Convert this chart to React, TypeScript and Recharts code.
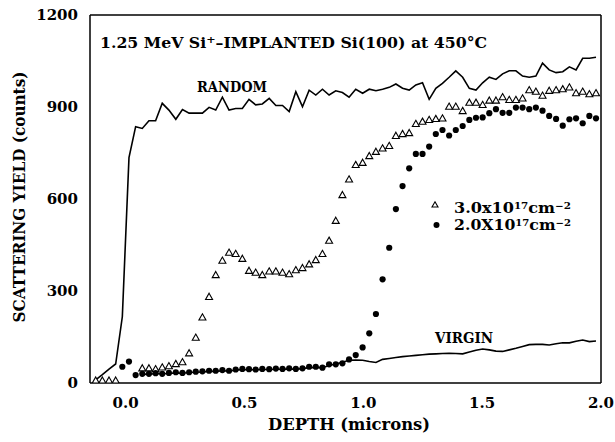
import { ComposedChart, Line, Scatter, XAxis, YAxis } from "recharts";

// depth grid (microns)
const DEPTH = [
  -0.126, -0.098, -0.07, -0.042, -0.014, 0.014, 0.042, 0.07, 0.098, 0.126,
  0.154, 0.182, 0.211, 0.239, 0.267, 0.295, 0.323, 0.351, 0.379, 0.407,
  0.435, 0.463, 0.491, 0.519, 0.547, 0.575, 0.604, 0.632, 0.66, 0.688,
  0.716, 0.744, 0.772, 0.8, 0.828, 0.856, 0.884, 0.912, 0.94, 0.968,
  0.997, 1.025, 1.053, 1.081, 1.109, 1.137, 1.165, 1.193, 1.221, 1.249,
  1.277, 1.305, 1.333, 1.361, 1.389, 1.418, 1.446, 1.474, 1.502, 1.53,
  1.558, 1.586, 1.614, 1.642, 1.67, 1.698, 1.726, 1.754, 1.782, 1.811,
  1.839, 1.867, 1.895, 1.923, 1.951, 1.979,
];

const RANDOM = [
  10, 27, 45, 62, 216, 735, 836, 830, 855, 855,
  912, 890, 860, 892, 880, 880, 880, 899, 890, 932,
  890, 895, 895, 925, 907, 910, 928, 905, 905, 885,
  950, 901, 955, 939, 958, 939, 953, 947, 932, 958,
  945, 958, 953, 958, 964, 975, 961, 955, 972, 979,
  925, 961, 977, 997, 1018, 997, 961, 955, 979, 997,
  990, 1008, 1018, 1018, 1001, 997, 1001, 1043, 1021, 1012,
  1015, 1031, 1021, 1059, 1059, 1062,
];

const VIRGIN = [
  null, null, null, null, null, null, null, 28, 29, 30,
  30, 31, 33, 32, 34, 35, 36, 38, 38, 40,
  39, 42, 44, 43, 43, 44, 44, 45, 45, 46,
  45, 47, 50, 51, 50, 57, 62, 68, 74, 75,
  74, 70, 67, 77, 80, 83, 86, 88, 90, 92,
  94, 95, 96, 97, 96, 95, 101, 107, 111, 108,
  104, 103, 108, 113, 119, 125, 126, 126, 124, 128,
  131, 131, 136, 140, 135, 137,
];

// 3.0x10^17 cm^-2 (open triangles)
const DOSE_HIGH = [
  8, 8, 8, 8, null, null, null, 48, 48, 45,
  51, 55, 62, 68, 97, 148, 214, 281, 352, 399,
  425, 421, 405, 366, 360, 352, 364, 364, 360, 355,
  368, 375, 387, 401, 421, 464, 529, 613, 664, 711,
  718, 740, 754, 765, 773, 806, 812, 815, 845, 852,
  858, 861, 863, 901, 901, 887, 914, 914, 907, 921,
  921, 932, 923, 923, 928, 955, 950, 937, 953, 955,
  958, 964, 945, 950, 942, 945,
];

// 2.0X10^17 cm^-2 (filled circles)
const DOSE_LOW = [
  null, null, null, null, 53, 70, 26, 30, 30, 32,
  30, 33, 35, 33, 35, 37, 38, 40, 40, 42,
  40, 44, 46, 45, 44, 46, 45, 47, 46, 48,
  46, 48, 53, 53, 50, 61, 61, 64, 77, 91,
  116, 162, 225, 338, 441, 567, 642, 700, 747, 747,
  771, 812, 825, 807, 825, 838, 858, 865, 866, 880,
  893, 881, 881, 898, 898, 893, 898, 888, 871, 861,
  839, 860, 863, 847, 871, 863,
];

const X_MAJOR = [0, 0.5, 1, 1.5, 2];
const X_MINOR = [-0.1, 0.1, 0.2, 0.3, 0.4, 0.6, 0.7, 0.8, 0.9, 1.1, 1.2, 1.3, 1.4, 1.6, 1.7, 1.8, 1.9];
const Y_MAJOR = [0, 300, 600, 900, 1200];
const Y_MINOR = [100, 200, 400, 500, 700, 800, 1000, 1100];

const rows = DEPTH.map((d, i) => ({
  depth: d,
  random: RANDOM[i],
  virgin: VIRGIN[i],
  high: DOSE_HIGH[i],
  low: DOSE_LOW[i],
}));
const highRows = rows.filter((r) => r.high != null);
const lowRows = rows.filter((r) => r.low != null);

const FONT = "'DejaVu Serif', serif";
const tickFont = { fontFamily: FONT, fontSize: 15, fontWeight: 700, fill: "#000" };

const Triangle = (p: any) => (
  <path
    d={`M${p.cx},${p.cy - 3.6} L${p.cx + 3.5},${p.cy + 2.6} L${p.cx - 3.5},${p.cy + 2.6} Z`}
    fill="#fff"
    stroke="#000"
    strokeWidth={1.1}
  />
);

const Dot = (p: any) => <circle cx={p.cx} cy={p.cy} r={3.1} fill="#000" />;

export default function App() {
  return (
    <div style={{ position: "absolute", left: 0, top: 0, width: 615, height: 442, background: "#fff" }}>
      <ComposedChart
        width={615}
        height={442}
        data={rows}
        margin={{ top: 15, right: 14, bottom: 29, left: 40 }}
      >
        {/* labelled axes */}
        <XAxis
          xAxisId="x"
          dataKey="depth"
          type="number"
          domain={[-0.15, 2]}
          allowDataOverflow
          ticks={X_MAJOR}
          tickFormatter={(v) => v.toFixed(1)}
          tick={tickFont}
          tickLine={false}
          tickSize={0}
          tickMargin={14}
          height={30}
          axisLine={{ stroke: "#000", strokeWidth: 1.5 }}
        />
        <YAxis
          yAxisId="y"
          type="number"
          domain={[0, 1200]}
          allowDataOverflow
          ticks={Y_MAJOR}
          tick={tickFont}
          tickLine={false}
          tickSize={0}
          tickMargin={12}
          width={50}
          axisLine={{ stroke: "#000", strokeWidth: 1.5 }}
        />
        {/* inward tick marks and frame */}
        <XAxis xAxisId="bMaj" type="number" domain={[-0.15, 2]} allowDataOverflow orientation="bottom" mirror
          ticks={X_MAJOR} tick={false} tickSize={7} axisLine={false} tickLine={{ stroke: "#000", strokeWidth: 1.3 }} />
        <XAxis xAxisId="bMin" type="number" domain={[-0.15, 2]} allowDataOverflow orientation="bottom" mirror
          ticks={X_MINOR} tick={false} tickSize={4} axisLine={false} tickLine={{ stroke: "#000", strokeWidth: 1.2 }} />
        <XAxis xAxisId="tMaj" type="number" domain={[-0.15, 2]} allowDataOverflow orientation="top" mirror
          ticks={X_MAJOR} tick={false} tickSize={6} axisLine={{ stroke: "#000", strokeWidth: 1.5 }} tickLine={{ stroke: "#000", strokeWidth: 1.2 }} />
        <XAxis xAxisId="tMin" type="number" domain={[-0.15, 2]} allowDataOverflow orientation="top" mirror
          ticks={X_MINOR} tick={false} tickSize={4} axisLine={false} tickLine={{ stroke: "#000", strokeWidth: 1.2 }} />
        <YAxis yAxisId="lMaj" type="number" domain={[0, 1200]} allowDataOverflow orientation="left" mirror
          ticks={Y_MAJOR} tick={false} tickSize={7} axisLine={false} tickLine={{ stroke: "#000", strokeWidth: 1.3 }} />
        <YAxis yAxisId="lMin" type="number" domain={[0, 1200]} allowDataOverflow orientation="left" mirror
          ticks={Y_MINOR} tick={false} tickSize={4} axisLine={false} tickLine={{ stroke: "#000", strokeWidth: 1.2 }} />
        <YAxis yAxisId="rMaj" type="number" domain={[0, 1200]} allowDataOverflow orientation="right" mirror
          ticks={Y_MAJOR} tick={false} tickSize={6} axisLine={{ stroke: "#000", strokeWidth: 1.5 }} tickLine={{ stroke: "#000", strokeWidth: 1.2 }} />
        <YAxis yAxisId="rMin" type="number" domain={[0, 1200]} allowDataOverflow orientation="right" mirror
          ticks={Y_MINOR} tick={false} tickSize={4} axisLine={false} tickLine={{ stroke: "#000", strokeWidth: 1.2 }} />

        <Line xAxisId="x" yAxisId="y" dataKey="random" stroke="#000" strokeWidth={1.6} dot={false} isAnimationActive={false} />
        <Line xAxisId="x" yAxisId="y" dataKey="virgin" stroke="#000" strokeWidth={1.6} dot={false} isAnimationActive={false} />
        <Scatter xAxisId="x" yAxisId="y" data={highRows} dataKey="high" shape={Triangle} isAnimationActive={false} />
        <Scatter xAxisId="x" yAxisId="y" data={lowRows} dataKey="low" shape={Dot} isAnimationActive={false} />

        {/* annotations */}
        <text x={100} y={48} fontFamily={FONT} fontSize={14} fontWeight={700} textLength={387} lengthAdjust="spacingAndGlyphs">
          1.25 MeV Si<tspan dy={-5} fontSize={10}>+</tspan><tspan dy={5}>–IMPLANTED Si(100) at 450°C</tspan>
        </text>
        <text x={197} y={92} fontFamily={FONT} fontSize={14} fontWeight={700} textLength={70} lengthAdjust="spacingAndGlyphs">RANDOM</text>
        <text x={435} y={343} fontFamily={FONT} fontSize={14} fontWeight={700} textLength={58} lengthAdjust="spacingAndGlyphs">VIRGIN</text>

        <path d="M435,201.8 L438,207 L432,207 Z" fill="#fff" stroke="#000" strokeWidth={1.1} />
        <text x={454} y={213} fontFamily={FONT} fontSize={14} fontWeight={700} textLength={117} lengthAdjust="spacingAndGlyphs">
          3.0x10<tspan dy={-4} fontSize={9}>17</tspan><tspan dy={4}>cm</tspan><tspan dy={-4} fontSize={9}>−2</tspan>
        </text>
        <circle cx={436.5} cy={225} r={3} fill="#000" />
        <text x={454} y={230} fontFamily={FONT} fontSize={14} fontWeight={700} textLength={117} lengthAdjust="spacingAndGlyphs">
          2.0X10<tspan dy={-4} fontSize={9}>17</tspan><tspan dy={4}>cm</tspan><tspan dy={-4} fontSize={9}>−2</tspan>
        </text>

        <text x={349} y={430} textAnchor="middle" fontFamily={FONT} fontSize={16} fontWeight={700} textLength={162} lengthAdjust="spacingAndGlyphs">
          DEPTH (microns)
        </text>
        <text x={25} y={197} transform="rotate(-90 25 197)" textAnchor="middle" fontFamily={FONT} fontSize={16} fontWeight={700} textLength={251} lengthAdjust="spacingAndGlyphs">
          SCATTERING YIELD (counts)
        </text>
      </ComposedChart>
    </div>
  );
}
